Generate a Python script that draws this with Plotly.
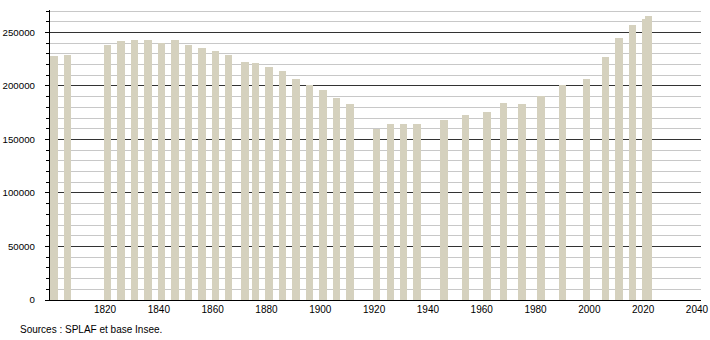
import plotly.graph_objects as go

years = [1801, 1806, 1821, 1826, 1831, 1836, 1841, 1846, 1851, 1856, 1861, 1866,
         1872, 1876, 1881, 1886, 1891, 1896, 1901, 1906, 1911, 1921, 1926, 1931,
         1936, 1946, 1954, 1962, 1968, 1975, 1982, 1990, 1999, 2006, 2011, 2016,
         2021, 2022]
population = [228200, 228800, 238200, 241900, 242800, 242800, 239700, 242800,
              238200, 235400, 232600, 228800, 222300, 221400, 217600, 213900,
              206400, 200800, 196100, 188700, 183100, 159400, 164400, 164400,
              164400, 168100, 172800, 175600, 184000, 183100, 190300, 200800,
              206400, 226900, 244700, 256900, 262400, 265500]
x_ticks = [1820, 1840, 1860, 1880, 1900, 1920, 1940, 1960, 1980, 2000, 2020, 2040]
y_ticks = [0, 50000, 100000, 150000, 200000, 250000]
source_text = "Sources : SPLAF et base Insee."

font = "Liberation Sans, Arial, sans-serif"

fig = go.Figure()
fig.add_trace(go.Bar(
    x=years, y=population, width=2.75,
    marker=dict(color="#d5d1be", line=dict(width=0)),
    hoverinfo="x+y",
))

fig.update_layout(
    width=710, height=340,
    margin=dict(l=50, r=9, t=10, b=40, autoexpand=False),
    paper_bgcolor="white", plot_bgcolor="white",
    showlegend=False,
    font=dict(family=font, size=10, color="#000"),
    bargap=0,
    xaxis=dict(
        range=[1799.55, 2041.5], automargin=False,
        tickvals=x_ticks, ticktext=[str(v) for v in x_ticks],
        showgrid=False, zeroline=False,
        showline=True, linecolor="#000", linewidth=1.3,
        ticks="", tickfont=dict(size=10, family=font),
    ),
    yaxis=dict(
        range=[0, 271000], automargin=False,
        tickvals=y_ticks, ticktext=[str(v) for v in y_ticks],
        showgrid=True, gridcolor="#333333", gridwidth=1,
        zeroline=False,
        showline=True, linecolor="#000", linewidth=1.3,
        ticks="outside", ticklen=4, tickcolor="#000", tickwidth=1,
        ticklabelstandoff=8,
        tickfont=dict(size=9.7, family=font),
        minor=dict(dtick=10000, tick0=0, showgrid=True, gridcolor="#c8c8c8",
                   gridwidth=1, ticks="outside", ticklen=3, tickcolor="#000"),
    ),
    annotations=[dict(
        text=source_text, xref="paper", yref="paper",
        x=-32.5/651, y=-29/290, xanchor="left", yanchor="middle",
        showarrow=False, font=dict(size=10, family=font, color="#000"),
    )],
)

fig.write_html("out.html")
